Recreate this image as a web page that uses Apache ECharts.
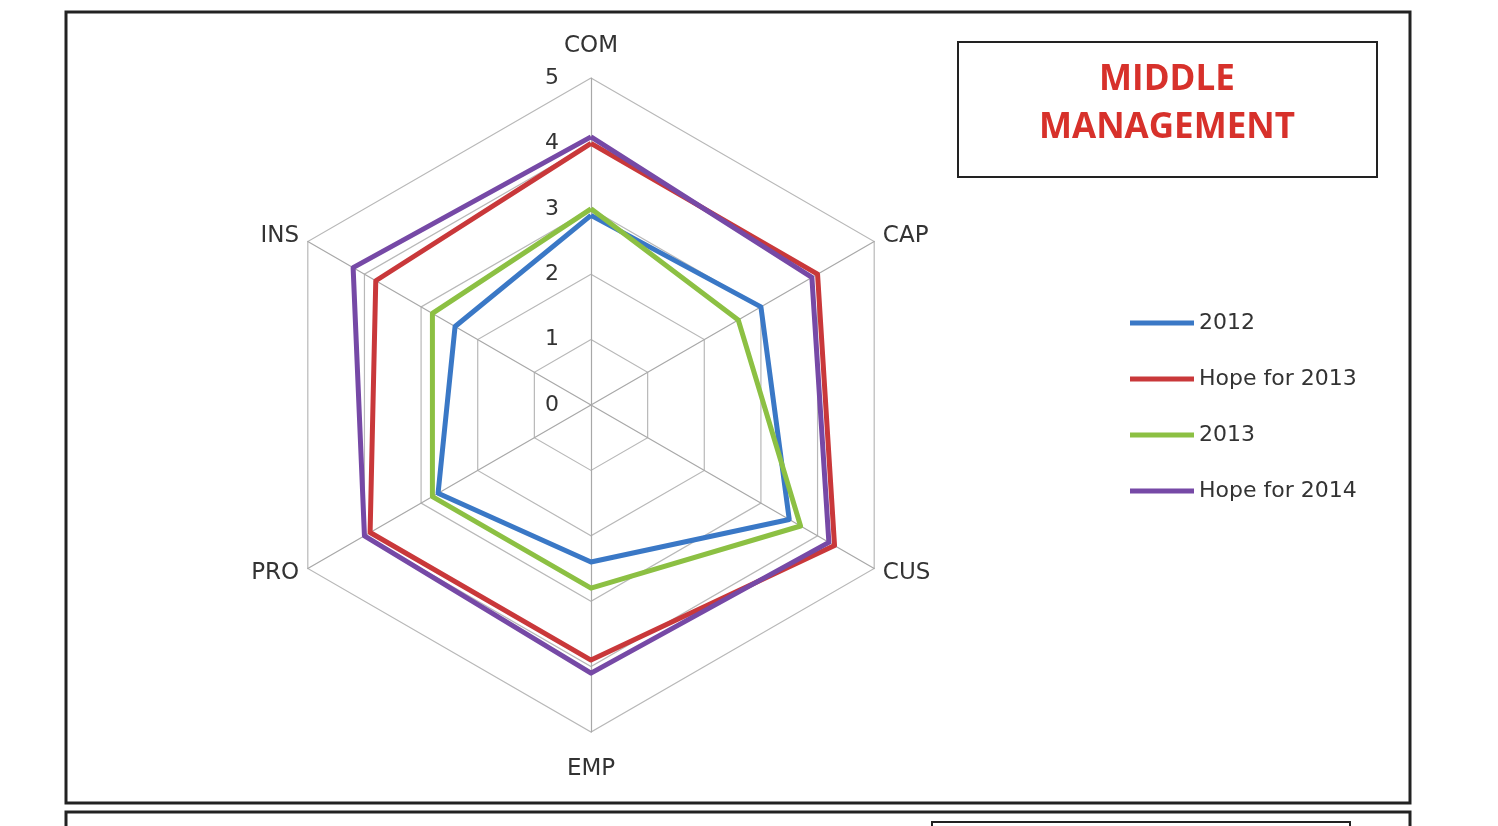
<!DOCTYPE html>
<html>
<head>
    <meta charset="utf-8">
    <title>Middle Management</title>
    <script src="https://cdn.jsdelivr.net/npm/echarts@6/dist/echarts.min.js"></script>
    <style>
        html, body { margin: 0; padding: 0; background: #fff; }
    </style>
</head>
<body>
<div id="main" style="width: 1498px;height:826px;"></div>
<script type="text/javascript">
    // categories clockwise from the top, as they appear in the picture
    var categories = ['COM', 'CAP', 'CUS', 'EMP', 'PRO', 'INS'];
    var tickLabels = ['0', '1', '2', '3', '4', '5'];
    var seriesNames = ['2012', 'Hope for 2013', '2013', 'Hope for 2014'];
    var data2012     = [2.9, 3.0, 3.5, 2.4, 2.7, 2.4];
    var dataHope2013 = [4.0, 4.0, 4.3, 3.9, 3.9, 3.8];
    var data2013     = [3.0, 2.6, 3.7, 2.8, 2.8, 2.8];
    var dataHope2014 = [4.1, 3.9, 4.2, 4.1, 4.0, 4.2];
    var colors = ['#3a78c6', '#c9383a', '#8cc043', '#7649a6'];

    // echarts lays indicators out counter-clockwise, so flip the order after the first
    function ccw(arr) {
        return [arr[0]].concat(arr.slice(1).reverse());
    }

    var myChart = echarts.init(document.getElementById('main'));

    var indicators = ccw(categories).map(function (c, i) {
        var ind = { name: c, min: 0, max: 5 };
        if (i === 0) ind.axisLabel = { show: true };
        return ind;
    });

    var allData = [data2012, dataHope2013, data2013, dataHope2014];

    var option = {
        animation: false,
        color: colors,
        legend: {
            orient: 'vertical',
            left: 1125,
            top: 307,
            icon: 'rect',
            itemWidth: 64,
            itemHeight: 5,
            itemGap: 34,
            textStyle: { fontFamily: 'DejaVu Sans', fontSize: 22, color: '#333' },
            data: seriesNames
        },
        radar: {
            center: [591, 405],
            radius: 327,
            startAngle: 90,
            splitNumber: 5,
            shape: 'polygon',
            indicator: indicators,
            nameGap: 10,
            axisName: {
                color: '#333',
                fontFamily: 'DejaVu Sans',
                fontSize: 23,
                padding: [16, 0, 10, 0]
            },
            axisLine: { lineStyle: { color: '#a8a8a8', width: 1.2 } },
            splitLine: { lineStyle: { color: '#b8b8b8', width: 1.2 } },
            splitArea: { show: false },
            axisTick: { show: false },
            axisLabel: {
                show: false,
                color: '#333',
                fontFamily: 'DejaVu Sans',
                fontSize: 22,
                margin: 32,
                formatter: function (v) { return tickLabels[Math.round(v)]; }
            }
        },
        series: [{
            type: 'radar',
            symbol: 'none',
            lineStyle: { width: 5 },
            data: allData.map(function (d, i) {
                return { name: seriesNames[i], value: ccw(d) };
            })
        }],
        graphic: [
            {
                type: 'rect',
                shape: { x: 66, y: 12, width: 1344, height: 791 },
                style: { fill: null, stroke: '#222', lineWidth: 3 },
                z: 0
            },
            {
                type: 'rect',
                shape: { x: 66, y: 812, width: 1344, height: 60 },
                style: { fill: null, stroke: '#222', lineWidth: 3 }
            },
            {
                type: 'rect',
                shape: { x: 932, y: 822, width: 418, height: 60 },
                style: { fill: null, stroke: '#222', lineWidth: 2 }
            },
            {
                type: 'rect',
                shape: { x: 958, y: 42, width: 419, height: 135 },
                style: { fill: '#fff', stroke: '#222', lineWidth: 2 }
            },
            {
                type: 'text',
                x: 1167,
                y: 104,
                style: {
                    text: 'MIDDLE\nMANAGEMENT',
                    fill: '#d7312b',
                    font: 'bold 35px "Open Sans"',
                    lineHeight: 48,
                    align: 'center',
                    verticalAlign: 'middle'
                }
            }
        ]
    };

    myChart.setOption(option);
</script>
</body>
</html>
